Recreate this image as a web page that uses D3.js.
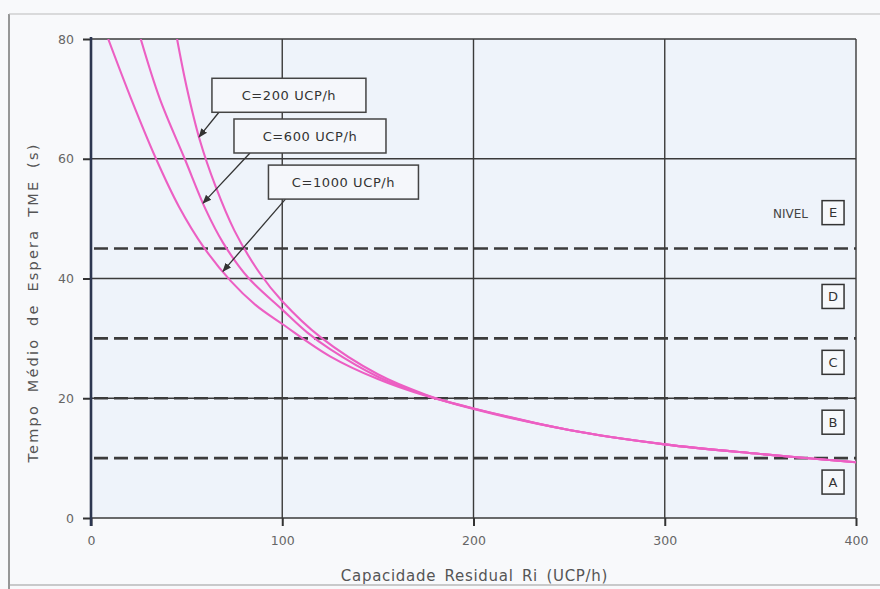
<!DOCTYPE html>
<html><head><meta charset="utf-8">
<script src="https://cdn.jsdelivr.net/npm/d3@7"></script>
<style>
body{margin:0;background:#f8f9fb;}
text{font-family:"DejaVu Sans",sans-serif;}
</style></head>
<body><svg id="chart" width="880" height="589"></svg>
<script>
// ---- data ----
const xTicks = [0, 100, 200, 300, 400];
const yTicks = [0, 20, 40, 60, 80];
const levelLines = [10, 20, 30, 45];
const levelNames = ["A", "B", "C", "D", "E"];
const levelLabelT = [6, 16, 26, 37, 51];

const c200R = [45, 50, 57, 65, 75, 88, 100, 120, 150, 175, 200, 250, 300, 350, 400];
const c200T = [80, 72, 63, 55.5, 48, 41, 36.2, 30.2, 24, 20.6, 18.2, 14.7, 12.3, 10.7, 9.3];
const c600R = [26, 36, 49, 60, 69, 82, 100, 113, 125, 150, 175, 200, 250, 300, 350, 400];
const c600T = [80, 70, 60, 51.5, 46, 40.2, 34.8, 31, 28.2, 23.6, 20.5, 18.3, 14.7, 12.3, 10.7, 9.3];
const c1000R = [9, 21, 34, 46, 59, 73, 86, 100, 125, 150, 175, 200, 250, 300, 350, 400];
const c1000T = [80, 70, 60, 52, 45.2, 39.6, 35.6, 32.4, 27, 23.2, 20.4, 18.3, 14.7, 12.3, 10.7, 9.3];

const seriesNames = ["C=200 UCP/h", "C=600 UCP/h", "C=1000 UCP/h"];
const labelR = [103.5, 114.5, 132];   // label centre (data coords)
const labelT = [70.6, 63.8, 56.1];
const tipR = [56.5, 58.6, 69];        // arrow tip, on the curve

// ---- layout ----
const svg = d3.select("#chart");
const m = {l: 91, r: 24, t: 39, b: 71};
const W = 880, H = 589;
const x = d3.scaleLinear().domain([0, 400]).range([m.l, W - m.r]);
const y = d3.scaleLinear().domain([0, 80]).range([H - m.b, m.t]);

// paper frame
svg.append("line").attr("x1", 9).attr("x2", 9).attr("y1", 14).attr("y2", 589).attr("stroke", "#555").attr("stroke-width", 1.2);
svg.append("line").attr("x1", 9).attr("x2", 880).attr("y1", 14).attr("y2", 14).attr("stroke", "#bbb").attr("stroke-width", 1);
svg.append("line").attr("x1", 9).attr("x2", 880).attr("y1", 585).attr("y2", 585).attr("stroke", "#999").attr("stroke-width", 1);

// plot background
svg.append("rect").attr("x", x(0)).attr("y", y(80)).attr("width", x(400) - x(0)).attr("height", y(0) - y(80)).attr("fill", "#eef3fa");

// grid
const g = svg.append("g");
g.selectAll(".vg").data(xTicks).join("line")
  .attr("x1", d => x(d)).attr("x2", d => x(d)).attr("y1", y(0)).attr("y2", y(80))
  .attr("stroke", "#3a3a3a").attr("stroke-width", 1.4);
g.selectAll(".hg").data(yTicks).join("line")
  .attr("x1", x(0)).attr("x2", x(400)).attr("y1", d => y(d)).attr("y2", d => y(d))
  .attr("stroke", "#3a3a3a").attr("stroke-width", 1.4);

// dashed level lines
g.selectAll(".lv").data(levelLines).join("line")
  .attr("x1", x(0) + 3).attr("x2", x(400)).attr("y1", d => y(d)).attr("y2", d => y(d))
  .attr("stroke", "#3b3b3b").attr("stroke-width", 2.6).attr("stroke-dasharray", "14,6");

// axes
const xAxis = d3.axisBottom(x).tickValues(xTicks).tickSize(8).tickPadding(10);
const yAxis = d3.axisLeft(y).tickValues(yTicks).tickSize(8).tickPadding(9);
const gx = svg.append("g").attr("transform", `translate(0,${y(0)})`).call(xAxis);
const gy = svg.append("g").attr("transform", `translate(${x(0)},0)`).call(yAxis);
[gx, gy].forEach(a => {
  a.select(".domain").remove();
  a.selectAll(".tick line").attr("stroke", "#333").attr("stroke-width", 2);
  a.selectAll(".tick text").attr("fill", "#666").attr("font-size", 12.5).attr("font-family", "DejaVu Sans");
});
svg.append("line").attr("x1", x(0)).attr("x2", x(0)).attr("y1", y(80) - 2).attr("y2", y(0) + 8)
  .attr("stroke", "#2c3650").attr("stroke-width", 2.6);

// curves
svg.append("clipPath").attr("id", "clip").append("rect")
  .attr("x", x(0)).attr("y", y(80)).attr("width", x(400) - x(0)).attr("height", y(0) - y(80));
const line = d3.line().x(d => x(d[0])).y(d => y(d[1])).curve(d3.curveCatmullRom.alpha(0.5));
const series = [d3.zip(c200R, c200T), d3.zip(c600R, c600T), d3.zip(c1000R, c1000T)];
svg.append("g").attr("clip-path", "url(#clip)").selectAll("path").data(series).join("path")
  .attr("d", line).attr("fill", "none").attr("stroke", "#ec5fc3").attr("stroke-width", 2.1);

// level labels
svg.append("text").attr("x", x(388) - 25).attr("y", y(levelLabelT[4]) + 5).attr("text-anchor", "end")
  .attr("font-size", 12).attr("fill", "#444").text("NIVEL");
const lg = svg.selectAll(".lvl").data(levelNames).join("g")
  .attr("transform", (d, i) => `translate(${x(388)},${y(levelLabelT[i])})`);
lg.append("rect").attr("x", -11).attr("y", -12).attr("width", 22).attr("height", 24)
  .attr("fill", "#f6f8fb").attr("stroke", "#333").attr("stroke-width", 1.5);
lg.append("text").attr("text-anchor", "middle").attr("dy", "0.36em").attr("font-size", 13).attr("fill", "#333").text(d => d);

// callouts
function interp(R, T, r) { return d3.scaleLinear().domain(R).range(T)(r); }
svg.append("defs").append("marker").attr("id", "arr").attr("viewBox", "0 0 10 10")
  .attr("refX", 9).attr("refY", 5).attr("markerWidth", 7).attr("markerHeight", 7).attr("orient", "auto")
  .append("path").attr("d", "M0,1 L10,5 L0,9 Z").attr("fill", "#333");
const bw = [154, 152, 150], bh = 34;
seriesNames.forEach((name, i) => {
  const cx = x(labelR[i]), cy = y(labelT[i]);
  const tx = x(tipR[i]), ty = y(interp(series[i].map(d => d[0]), series[i].map(d => d[1]), tipR[i]));
  const sx = cx - bw[i] / 2 + [7, 16, 17][i], sy = cy + bh / 2;
  svg.append("line").attr("x1", sx).attr("y1", sy).attr("x2", tx).attr("y2", ty)
    .attr("stroke", "#333").attr("stroke-width", 1.3).attr("marker-end", "url(#arr)");
  svg.append("rect").attr("x", cx - bw[i] / 2).attr("y", cy - bh / 2).attr("width", bw[i]).attr("height", bh)
    .attr("fill", "#f5f7fb").attr("stroke", "#444").attr("stroke-width", 1.5);
  svg.append("text").attr("x", cx).attr("y", cy).attr("dy", "0.36em").attr("text-anchor", "middle")
    .attr("font-size", 13).attr("letter-spacing", 0.6).attr("fill", "#333").text(name);
});

// axis titles
svg.append("text").attr("x", (x(0) + x(400)) / 2 + 1).attr("y", 581).attr("text-anchor", "middle")
  .attr("font-size", 15).attr("letter-spacing", 0.7).attr("word-spacing", 3).attr("fill", "#555").text("Capacidade Residual Ri (UCP/h)");
svg.append("text").attr("transform", `translate(38,${(y(0) + y(80)) / 2 + 24}) rotate(-90)`).attr("text-anchor", "middle")
  .attr("font-size", 14.5).attr("letter-spacing", 2.2).attr("word-spacing", 5).attr("fill", "#555").text("Tempo Médio de Espera TME (s)");
</script></body></html>
